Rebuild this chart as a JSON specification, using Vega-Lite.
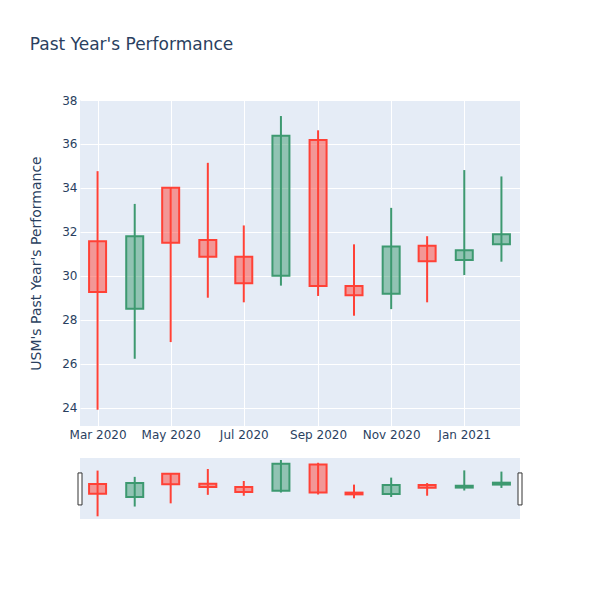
{
  "$schema": "https://vega.github.io/schema/vega-lite/v6.json",
  "background": "white",
  "autosize": {"type": "pad"},
  "padding": {"left": 29, "top": 36, "right": 5, "bottom": 5},
  "title": {"text": "Past Year's Performance", "anchor": "start", "frame": "bounds", "fontSize": 17, "font": "DejaVu Sans", "fontWeight": "normal", "color": "#2a3f5f", "offset": 40, "dx": 0},
  "config": {
    "view": {"stroke": null},
    "axis": {"grid": true, "gridColor": "white", "gridWidth": 1, "domain": false, "ticks": false, "tickSize": 0, "labelFont": "DejaVu Sans", "labelFontSize": 12, "labelColor": "#2a3f5f", "titleFont": "DejaVu Sans", "titleFontSize": 14, "titleFontWeight": "normal", "titleColor": "#2a3f5f", "labelFlush": false}
  },
  "datasets": {
    "candles": [
      {"date": "2020-03-01", "open": 31.57, "close": 29.26, "high": 34.76, "low": 23.90},
      {"date": "2020-04-01", "open": 28.50, "close": 31.80, "high": 33.27, "low": 26.22},
      {"date": "2020-05-01", "open": 34.00, "close": 31.50, "high": 34.00, "low": 26.98},
      {"date": "2020-06-01", "open": 31.63, "close": 30.86, "high": 35.14, "low": 29.00},
      {"date": "2020-07-01", "open": 30.86, "close": 29.66, "high": 32.29, "low": 28.79},
      {"date": "2020-08-01", "open": 30.00, "close": 36.37, "high": 37.27, "low": 29.55},
      {"date": "2020-09-01", "open": 36.18, "close": 29.53, "high": 36.62, "low": 29.08},
      {"date": "2020-10-01", "open": 29.53, "close": 29.11, "high": 31.43, "low": 28.18},
      {"date": "2020-11-01", "open": 29.18, "close": 31.33, "high": 33.09, "low": 28.48},
      {"date": "2020-12-01", "open": 31.36, "close": 30.66, "high": 31.80, "low": 28.79},
      {"date": "2021-01-01", "open": 30.72, "close": 31.16, "high": 34.81, "low": 30.03},
      {"date": "2021-02-01", "open": 31.43, "close": 31.89, "high": 34.52, "low": 30.64}
    ],
    "handles": [
      {"date": "2020-02-15T08:00:00Z", "lo": 26.6, "hi": 34.2},
      {"date": "2021-02-16T12:00:00Z", "lo": 26.6, "hi": 34.2}
    ]
  },
  "spacing": 18,
  "vconcat": [
    {
      "width": 440,
      "height": 326,
      "view": {"fill": "#E5ECF6", "stroke": null},
      "data": {"name": "candles"},
      "encoding": {
        "x": {
          "field": "date", "type": "temporal",
          "scale": {"type": "utc", "nice": false, "padding": 0, "domain": [{"year": 2020, "month": 2, "date": 15, "hours": 8, "utc": true}, {"year": 2021, "month": 2, "date": 16, "hours": 12, "utc": true}]},
          "axis": {"title": null, "format": "%b %Y", "labelPadding": 3, "labelFont": "DejaVu Sans", "labelFontSize": 12, "labelColor": "#2a3f5f",
            "values": [
              {"year": 2020, "month": 3, "date": 1, "utc": true},
              {"year": 2020, "month": 5, "date": 1, "utc": true},
              {"year": 2020, "month": 7, "date": 1, "utc": true},
              {"year": 2020, "month": 9, "date": 1, "utc": true},
              {"year": 2020, "month": 11, "date": 1, "utc": true},
              {"year": 2021, "month": 1, "date": 1, "utc": true}
            ]}
        }
      },
      "layer": [
        {
          "mark": {"type": "rule", "strokeWidth": 2},
          "encoding": {
            "y": {"field": "low", "type": "quantitative", "scale": {"domain": [23.16, 38], "zero": false, "nice": false},
              "axis": {"title": "USM's Past Year's Performance", "values": [24, 26, 28, 30, 32, 34, 36, 38], "labelPadding": 3, "titlePadding": 18, "labelFont": "DejaVu Sans", "labelFontSize": 12, "labelColor": "#2a3f5f"}},
            "y2": {"field": "high"},
            "stroke": {"condition": {"test": "datum.open > datum.close", "value": "#FF4136"}, "value": "#3D9970"}
          }
        },
        {
          "mark": {"type": "bar", "size": 17, "fillOpacity": 0.5, "strokeWidth": 2},
          "encoding": {
            "y": {"field": "open", "type": "quantitative"},
            "y2": {"field": "close"},
            "fill": {"condition": {"test": "datum.open > datum.close", "value": "#FF4136"}, "value": "#3D9970"},
            "stroke": {"condition": {"test": "datum.open > datum.close", "value": "#FF4136"}, "value": "#3D9970"}
          }
        }
      ]
    },
    {
      "width": 440,
      "height": 61,
      "view": {"fill": "#E5ECF6", "stroke": null},
      "encoding": {
        "x": {
          "field": "date", "type": "temporal",
          "scale": {"type": "utc", "nice": false, "padding": 0, "domain": [{"year": 2020, "month": 2, "date": 15, "hours": 8, "utc": true}, {"year": 2021, "month": 2, "date": 16, "hours": 12, "utc": true}]},
          "axis": null
        }
      },
      "layer": [
        {
          "data": {"name": "candles"},
          "mark": {"type": "rule", "strokeWidth": 2},
          "encoding": {
            "y": {"field": "low", "type": "quantitative", "scale": {"domain": [23.26, 37.75], "zero": false, "nice": false}, "axis": null},
            "y2": {"field": "high"},
            "stroke": {"condition": {"test": "datum.open > datum.close", "value": "#FF4136"}, "value": "#3D9970"}
          }
        },
        {
          "data": {"name": "candles"},
          "mark": {"type": "bar", "size": 17, "fillOpacity": 0.5, "strokeWidth": 2},
          "encoding": {
            "y": {"field": "open", "type": "quantitative"},
            "y2": {"field": "close"},
            "fill": {"condition": {"test": "datum.open > datum.close", "value": "#FF4136"}, "value": "#3D9970"},
            "stroke": {"condition": {"test": "datum.open > datum.close", "value": "#FF4136"}, "value": "#3D9970"}
          }
        },
        {
          "data": {"name": "handles"},
          "mark": {"type": "bar", "size": 4, "fill": "white", "stroke": "#333333", "strokeWidth": 1},
          "encoding": {
            "y": {"field": "lo", "type": "quantitative"},
            "y2": {"field": "hi"}
          }
        }
      ]
    }
  ]
}
